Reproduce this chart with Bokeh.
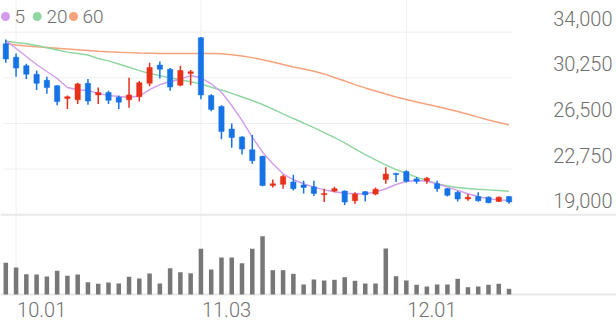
from bokeh.plotting import figure
from bokeh.models import Range1d, ColumnDataSource
from bokeh.core.properties import value
from bokeh.embed import file_html
from bokeh.resources import INLINE

# ---------------- data ----------------
opens = [33050, 31950, 31250, 30550, 30050, 29600, 28550, 28450, 29800, 28850,
         29050, 28650, 28450, 28700, 29800, 31300, 30950, 29650, 30600, 33550,
         28800, 27900, 26050, 25400, 24350, 23800, 21400, 21500, 21700, 21450,
         21300, 20650, 20950, 20950, 20150, 20900, 20700, 21900, 22400, 22550,
         21950, 21800, 21550, 21150, 20850, 20300, 20500, 20450, 20100, 20500]
highs = [33400, 32250, 31400, 30850, 30350, 29650, 28800, 29850, 30150, 29450,
         29200, 28800, 30250, 30000, 31500, 31600, 31050, 31250, 30900, 33600,
         28900, 28000, 26500, 25450, 25550, 23850, 21900, 22300, 22300, 21800,
         21800, 21150, 21300, 21000, 20850, 20950, 21250, 22900, 22450, 22650,
         22100, 22100, 21800, 21200, 20950, 20700, 20850, 20500, 20500, 20550]
lows = [31500, 30350, 30150, 29250, 28950, 28000, 27700, 28100, 28050, 28100,
        28100, 27700, 27800, 28300, 29550, 30200, 29200, 29550, 29650, 28500,
        27500, 25200, 24500, 23950, 23200, 21350, 21250, 21150, 21000, 20750,
        20550, 20050, 20850, 19800, 19900, 20100, 20600, 21550, 21700, 21650,
        21550, 21550, 20900, 20500, 20100, 20150, 20100, 19950, 20050, 19900]
closes = [31800, 31050, 30550, 29800, 29450, 28300, 28700, 29750, 28350, 29050,
          28400, 28250, 28850, 29850, 31100, 30950, 29500, 30850, 30750, 28850,
          27650, 25850, 25350, 24400, 23450, 21400, 21550, 22150, 21150, 21250,
          20750, 20750, 21150, 20050, 20700, 20650, 21100, 22350, 22300, 21750,
          21750, 22000, 21150, 20600, 20300, 20450, 20150, 20000, 20450, 20050]
volumes = [634, 540, 406, 400, 360, 474, 374, 400, 246, 214,
           240, 220, 354, 320, 420, 220, 526, 446, 426, 914,
           500, 740, 740, 626, 914, 1166, 486, 486, 414, 200,
           300, 280, 294, 346, 274, 220, 220, 920, 366, 280,
           194, 160, 200, 200, 314, 146, 160, 194, 214, 114]
ma5 = [33320, 32660, 32000, 31350, 30770, 30200, 29460, 29270, 29210, 28970,
       28800, 28720, 28660, 28760, 29290, 29700, 29950, 30140, 30440, 30260,
       29760, 29070, 27980, 26750, 25380, 24140, 23190, 22370, 21880, 21550,
       21270, 21050, 20890, 20770, 20730, 20730, 20860, 21140, 21490, 21740,
       21820, 21760, 21550, 21270, 21000, 20730, 20500, 20310, 20230, 20180]
ma20 = [33260, 33150, 33050, 32910, 32720, 32540, 32360, 32250, 32130, 31840,
        31650, 31390, 31120, 30850, 30610, 30430, 30260, 30090, 29930, 29760,
        29480, 29250, 28970, 28680, 28390, 28060, 27690, 27300, 26910, 26540,
        26160, 25760, 25350, 24900, 24410, 23950, 23520, 23090, 22720, 22410,
        22090, 21820, 21560, 21370, 21240, 21160, 21100, 21050, 21000, 20940]
ma60 = [33070, 32950, 32870, 32800, 32740, 32680, 32620, 32560, 32500, 32440,
        32390, 32350, 32320, 32290, 32270, 32250, 32250, 32250, 32250, 32250,
        32250, 32230, 32150, 32050, 31910, 31740, 31550, 31350, 31140, 30980,
        30790, 30570, 30280, 29990, 29700, 29420, 29170, 28920, 28680, 28470,
        28270, 28080, 27900, 27690, 27490, 27260, 27030, 26790, 26580, 26380]
date_labels = ["10.01", "11.03", "12.01"]
date_index = [1, 19, 39]
price_ticks = [34000, 30250, 26500, 22750, 19000]
ma_names = ["5", "20", "60"]

# ---------------- layout helpers (pixel <-> data) ----------------
W, H = 616, 321
X0, DX = 5.3, 10.27            # pixel of first candle, pixels per candle
PY_REF, P_REF, PPU = 214.3, 19000, 0.012173  # price scale
VOL_BASE_PX, VOL_PER_PX = 294, 20


def px_x(px):
    return (px - X0) / DX


def py_price(py):
    return P_REF + (PY_REF - py) / PPU


def py_vol(py):
    return (VOL_BASE_PX - py) * VOL_PER_PX


UP, DOWN = "#e8311a", "#1673e6"
C5, C20, C60 = "#d29bee", "#8fd6a0", "#f6a27c"
TXT = "#707070"
FONT = value("Roboto Light, Roboto")

p = figure(width=W, height=H, output_backend="svg", toolbar_location=None,
           x_axis_type=None, y_axis_type=None,
           x_range=Range1d(px_x(0), px_x(W)),
           y_range=Range1d(py_price(H), py_price(0)),
           min_border=0, min_border_left=0, min_border_right=0,
           min_border_top=0, min_border_bottom=0)
p.extra_y_ranges = {"vol": Range1d(py_vol(H), py_vol(0))}
p.outline_line_color = None
p.grid.visible = False
p.background_fill_color = "white"
p.border_fill_color = "white"

n = len(closes)
idx = list(range(n))

# gridlines
grid_top = [t for t in price_ticks if t != P_REF]
p.segment(x0=[px_x(3)] * len(grid_top), x1=[px_x(511)] * len(grid_top),
          y0=grid_top, y1=grid_top, line_color="#efefef", line_width=1)
p.segment(x0=date_index, x1=date_index,
          y0=[py_price(0)] * len(date_index), y1=[py_price(VOL_BASE_PX)] * len(date_index),
          line_color="#efefef", line_width=1)
p.segment(x0=[px_x(0)], x1=[px_x(W)], y0=[P_REF], y1=[P_REF],
          line_color="#e8e8e8", line_width=2)
p.segment(x0=[px_x(0)], x1=[px_x(W)], y0=[0], y1=[0], y_range_name="vol",
          line_color="#e8e8e8", line_width=2)

# volume
p.vbar(x=idx, top=volumes, bottom=0, width=0.44, y_range_name="vol",
       fill_color="#777777", line_color=None)

# moving averages
p.line(idx, ma60, line_color=C60, line_width=1.4)
p.line(idx, ma20, line_color=C20, line_width=1.4)
p.line(idx, ma5, line_color=C5, line_width=1.4)

# candles
colors = [UP if c > o else DOWN for o, c in zip(opens, closes)]
src = ColumnDataSource(dict(
    x=idx, o=opens, h=highs, l=lows, c=closes, color=colors,
    top=[max(o, c) for o, c in zip(opens, closes)],
    bottom=[min(o, c) for o, c in zip(opens, closes)],
))
p.segment(x0="x", x1="x", y0="l", y1="h", line_color="color", line_width=1.5, source=src)
p.vbar(x="x", top="top", bottom="bottom", width=0.52, fill_color="color",
       line_color="color", line_width=0.5, source=src)

# price labels (right)
p.text(x=[px_x(612)] * len(price_ticks), y=price_ticks,
       text=[f"{t:,}" for t in price_ticks],
       text_align="right", text_baseline="alphabetic", y_offset=-14,
       text_font=FONT, text_font_size="20px", text_color=TXT)

# date labels
p.text(x=date_index, y=[0] * len(date_index), text=date_labels, y_range_name="vol",
       text_align="left", text_baseline="alphabetic", x_offset=1, y_offset=15,
       text_font=FONT, text_font_size="20px", text_color=TXT)

# legend
leg_dot_px = [5, 36.7, 73]
leg_txt_px = [14, 46, 82]
leg_y = py_price(16)
p.scatter(x=[px_x(v) for v in leg_dot_px], y=[leg_y] * 3, size=9,
          fill_color=[C5, C20, C60], line_color=None)
p.text(x=[px_x(v) for v in leg_txt_px], y=[leg_y] * 3, text=ma_names,
       text_align="left", text_baseline="middle",
       text_font=FONT, text_font_size="19px", text_color=TXT)

open("out.html", "w").write(file_html(p, INLINE))
